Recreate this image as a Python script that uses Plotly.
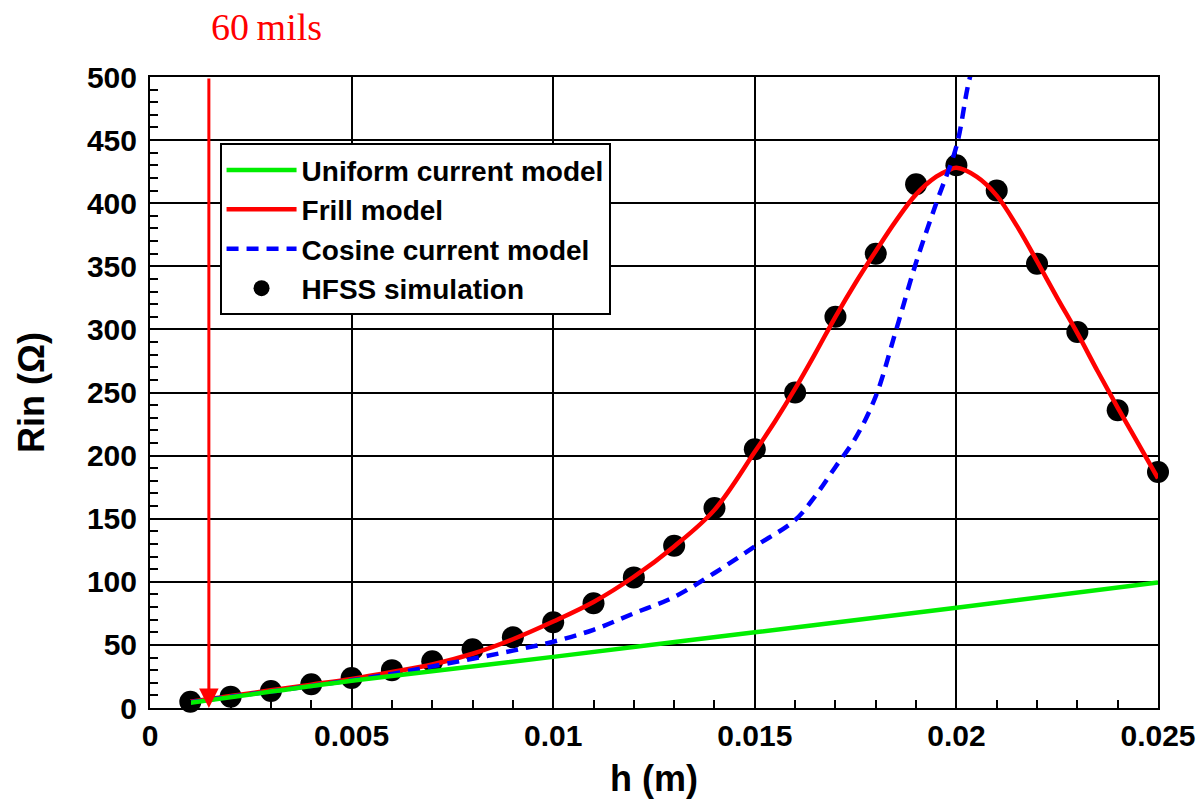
import plotly.graph_objects as go

# HFSS simulation points
h_sim = [0.001, 0.002, 0.003, 0.004, 0.005, 0.006, 0.007, 0.008, 0.009, 0.010,
         0.011, 0.012, 0.013, 0.014, 0.015, 0.016, 0.017, 0.018, 0.019, 0.020,
         0.021, 0.022, 0.023, 0.024, 0.025]
r_sim = [5, 9, 13.5, 18.8, 23.8, 30, 37, 46.5, 56, 68,
         83, 103.5, 128.5, 158.5, 205, 250, 310, 360, 415, 430,
         410, 352, 298, 236, 187]

# Frill model
h_frill = [0.001, 0.002, 0.003, 0.004, 0.005, 0.006, 0.007, 0.008, 0.009, 0.010,
           0.011, 0.012, 0.013, 0.014, 0.015, 0.0155, 0.016, 0.0165, 0.017, 0.0175,
           0.018, 0.0185, 0.019, 0.0195, 0.0198, 0.020, 0.0205, 0.021, 0.0215, 0.022,
           0.0225, 0.023, 0.0235, 0.024, 0.0245, 0.025]
r_frill = [5, 9.5, 14, 18.5, 23, 28.5, 34.5, 43, 54.5, 68.5,
           84, 104, 128, 157, 203, 227, 253, 281, 310, 337,
           362, 386, 407, 421, 426, 428, 421, 406, 382, 354,
           325, 297, 267, 238, 210, 182]

# Cosine current model
h_cos = [0.001, 0.002, 0.003, 0.004, 0.005, 0.006, 0.007, 0.008, 0.009, 0.010,
         0.011, 0.012, 0.013, 0.014, 0.015, 0.016, 0.0165, 0.017, 0.0175, 0.018,
         0.0185, 0.019, 0.0195, 0.020, 0.0203, 0.0206]
r_cos = [4.5, 9, 13, 17.5, 22, 27, 33, 39, 45.5, 52.5,
         62, 75, 88, 107, 128, 149, 168, 191, 214, 247,
         299, 353, 400, 445, 495, 530]

# Uniform current model
h_uni = [0.001, 0.003, 0.005, 0.010, 0.015, 0.020, 0.025]
r_uni = [4.2, 13, 21.6, 40.5, 60, 79.5, 99.5]

x_ticks = [0, 0.005, 0.01, 0.015, 0.02, 0.025]
x_ticktext = ["0", "0.005", "0.01", "0.015", "0.02", "0.025"]
y_ticks = [0, 50, 100, 150, 200, 250, 300, 350, 400, 450, 500]

arrow_h = 0.00146  # 60 mils marker position

FONT = "Liberation Sans, Arial, sans-serif"

fig = go.Figure()
fig.add_trace(go.Scatter(x=h_sim, y=r_sim, mode="markers", name="HFSS simulation",
                         marker=dict(size=22, color="black"), cliponaxis=False,
                         legendrank=4))
fig.add_trace(go.Scatter(x=h_frill, y=r_frill, mode="lines", name="Frill model",
                         line=dict(color="#ff0000", width=4.5, shape="spline"),
                         legendrank=2))
fig.add_trace(go.Scatter(x=h_cos, y=r_cos, mode="lines", name="Cosine current model",
                         line=dict(color="#0000ff", width=4.5, dash="12px,8px", shape="spline"),
                         legendrank=3))
fig.add_trace(go.Scatter(x=h_uni, y=r_uni, mode="lines", name="Uniform current model",
                         line=dict(color="#00ee00", width=4.5, shape="spline"),
                         legendrank=1))

axis_common = dict(
    showline=True, linecolor="black", linewidth=2, mirror=True,
    showgrid=True, gridcolor="black", gridwidth=1.5,
    ticks="inside", ticklen=8, tickcolor="black", tickwidth=1.5,
    tickfont=dict(family=FONT, size=30, color="black", weight="bold"),
    zeroline=False, automargin=False,
)

fig.update_xaxes(
    range=[0, 0.025], tickmode="array", tickvals=x_ticks, ticktext=x_ticktext,
    minor=dict(dtick=0.001, ticks="inside", ticklen=8, tickcolor="black", tickwidth=1.5, showgrid=False),
    title=dict(text="h (m)", font=dict(family=FONT, size=36, color="black", weight="bold"), standoff=15),
    ticklabelstandoff=0,
    **axis_common,
)
fig.update_yaxes(
    range=[0, 500], tickmode="array", tickvals=y_ticks,
    minor=dict(dtick=10, ticks="inside", ticklen=8, tickcolor="black", tickwidth=1.5, showgrid=False),
    title=dict(text="Rin (Ω)", font=dict(family=FONT, size=36, color="black", weight="bold"), standoff=31),
    ticklabelstandoff=5,
    **axis_common,
)

fig.add_annotation(x=arrow_h, y=0, ax=arrow_h, ay=500, xref="x", yref="y", axref="x", ayref="y",
                   showarrow=True, arrowhead=2, arrowsize=1.3, arrowwidth=3, arrowcolor="#ff0000", text="")
fig.add_annotation(x=arrow_h, y=1.079, xref="x", yref="paper", xanchor="left", yanchor="middle",
                   xshift=0, showarrow=False, text="60\u2009mils",
                   font=dict(family="Liberation Serif, Times New Roman, serif", size=38, color="#ff0000"))

fig.update_layout(
    width=1202, height=800,
    margin=dict(l=150, r=44, t=77, b=92),
    plot_bgcolor="white", paper_bgcolor="white",
    showlegend=True,
    legend=dict(x=0.069, y=0.895, xanchor="left", yanchor="top",
                bgcolor="white", bordercolor="black", borderwidth=2,
                font=dict(family=FONT, size=28, color="black", weight="bold"),
                itemwidth=70, tracegroupgap=0),
)

fig.write_html("out.html", config={"displayModeBar": False},
               post_script="document.body.style.margin='0';document.body.style.overflow='hidden';")
